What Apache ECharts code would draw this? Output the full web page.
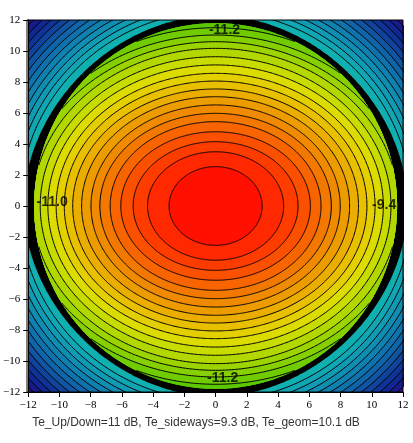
<!DOCTYPE html>
<html><head><meta charset="utf-8">
<script src="https://cdn.jsdelivr.net/npm/echarts@6/dist/echarts.min.js"></script>
<style>html,body{margin:0;padding:0;background:#fff}#c{width:413px;height:443px}</style>
</head><body><div id="c"></div>
<script>
// ---- data ----
const axisMin = -12, axisMax = 12, tickStep = 2;
// semi-axes (x, y) of the contour rings inside the rim, centre outward
const innerRingX = [2.98, 4.36, 5.28, 6.07, 6.75, 7.41, 7.98, 8.58, 9.15, 9.69, 10.21, 10.74, 11.23, 11.72, 12.2, 12.67, 13.14, 13.6];
const innerRingY = [2.54, 3.5, 4.15, 4.79, 5.44, 5.98, 6.52, 7.05, 7.55, 8.06, 8.56, 9.1, 9.63, 10.17, 10.6, 11.03, 11.5, 11.96];
const innerBandColors = ['#ff1000','#ff2800','#ff3c00','#fb5000','#f76400','#f37800','#f08a00','#ed9c00','#ebae00','#e8c000','#e4d000','#dcdc00','#c8dc00','#b2d800','#9cd400','#86d000','#70cc00','#5cc800','#4cc400'];
// rim (black band): inner semi-axes, outer radius, outer shape exponent
const rimInnerX = 11.62, rimInnerY = 11.8, rimOuter = 12.3, rimShape = 1.9;
// radii of the contour rings outside the rim
const outerRings = [12.55, 12.93, 13.31, 13.69, 14.07, 14.45, 14.83, 15.21, 15.59, 15.97, 16.35, 16.73];
const outerBandColors = ['#10b0b0','#10a6b4','#109ab4','#108eb2','#1080b0','#1072ac','#1064a8','#1054a2','#10449c','#103496','#102690','#181a8a','#2c1286'];
// edge taper labels
const edgeLabels = ['-11.2', '-11.2', '-11.0', '-9.4'];
const edgeLabelX = [0.57, 0.45, -10.47, 10.79];
const edgeLabelY = [11.35, -11.1, 0.26, 0.06];
const caption = 'Te_Up/Down=11 dB, Te_sideways=9.3 dB, Te_geom=10.1 dB';

// ---- drawing ----
const STEPS = 720;
function ellipseR(a, b, t) { const c = Math.cos(t) / a, s = Math.sin(t) / b; return 1 / Math.sqrt(c * c + s * s); }
function superR(R, n, t) { return R / Math.pow(Math.pow(Math.abs(Math.cos(t)), n) + Math.pow(Math.abs(Math.sin(t)), n), 1 / n); }
function shapePoints(api, rFn) {
  const p = [];
  for (let i = 0; i < STEPS; i++) { const t = i / STEPS * 2 * Math.PI; const r = rFn(t); p.push(api.coord([r * Math.cos(t), r * Math.sin(t)])); }
  return p;
}
const outerOrder = outerRings.map((_, i) => i).concat([outerRings.length]).reverse();
const innerOrder = innerRingX.map((_, i) => i).concat([innerRingX.length]).reverse();
const rimIn = t => ellipseR(rimInnerX, rimInnerY, t);

function renderOuter(params, api) {
  const j = outerOrder[params.dataIndex];
  if (j === outerRings.length) {
    const cs = params.coordSys;
    return { type: 'rect', shape: { x: cs.x, y: cs.y, width: cs.width, height: cs.height }, style: { fill: outerBandColors[j] } };
  }
  const r = outerRings[j];
  return { type: 'polygon', shape: { points: shapePoints(api, () => r) }, style: { fill: outerBandColors[j], stroke: '#000', lineWidth: 1 } };
}
function renderRim(params, api) {
  return { type: 'polygon', shape: { points: shapePoints(api, t => superR(rimOuter, rimShape, t)) }, style: { fill: '#000' } };
}
function renderInner(params, api) {
  const k = innerOrder[params.dataIndex];
  if (k === innerRingX.length) {
    return { type: 'polygon', shape: { points: shapePoints(api, rimIn) }, style: { fill: innerBandColors[k] } };
  }
  const a = innerRingX[k], b = innerRingY[k];
  const fillPts = [], segs = []; let cur = null;
  for (let i = 0; i <= STEPS; i++) {
    const t = i / STEPS * 2 * Math.PI;
    const re = ellipseR(a, b, t);
    const rc = rimIn(t);
    const inside = re < rc;
    const r = inside ? re : rc;
    const p = api.coord([r * Math.cos(t), r * Math.sin(t)]);
    if (i < STEPS) fillPts.push(p);
    if (inside) { if (!cur) { cur = []; segs.push(cur); } cur.push(p); } else cur = null;
  }
  const children = [{ type: 'polygon', shape: { points: fillPts }, style: { fill: innerBandColors[k] } }];
  segs.forEach(s => children.push({ type: 'polyline', shape: { points: s }, style: { fill: null, stroke: '#000', lineWidth: 1 } }));
  return { type: 'group', children };
}

const fmt = v => v < 0 ? '\u2212' + (-v) : String(v);
const axisCommon = {
  type: 'value', min: axisMin, max: axisMax, interval: tickStep, z: 20,
  axisLine: { show: true, onZero: false, lineStyle: { color: '#000', width: 1 } },
  axisTick: { show: true, length: 5, lineStyle: { color: '#000' } },
  splitLine: { show: false },
  axisLabel: { fontFamily: 'Liberation Serif', fontSize: 11, color: '#000', formatter: fmt }
};

const chart = echarts.init(document.getElementById('c'), null, { renderer: 'canvas' });
chart.setOption({
  animation: false,
  grid: { left: 27, top: 20, width: 376, height: 372, containLabel: false },
  xAxis: Object.assign({}, axisCommon, { axisLabel: Object.assign({}, axisCommon.axisLabel, { margin: 8 }) }),
  yAxis: Object.assign({}, axisCommon, { axisLabel: Object.assign({}, axisCommon.axisLabel, { margin: 8 }) }),
  series: [
    { type: 'custom', coordinateSystem: 'cartesian2d', clip: true, silent: true, z: 2, renderItem: renderOuter, data: outerOrder.map(j => [0, 0, j]), encode: { x: 0, y: 1 } },
    { type: 'custom', coordinateSystem: 'cartesian2d', clip: true, silent: true, z: 3, renderItem: renderRim, data: [[0, 0]], encode: { x: 0, y: 1 } },
    { type: 'custom', coordinateSystem: 'cartesian2d', clip: true, silent: true, z: 4, renderItem: renderInner, data: innerOrder.map(k => [0, 0, k]), encode: { x: 0, y: 1 } },
    { type: 'scatter', silent: true, z: 10, symbol: 'circle', symbolSize: 1, itemStyle: { color: 'rgba(0,0,0,0)' },
      labelLayout: { hideOverlap: false },
      data: edgeLabels.map((t, i) => ({ name: t, value: [edgeLabelX[i], edgeLabelY[i]] })),
      label: { show: true, position: 'inside', formatter: '{b}', fontFamily: 'Liberation Sans', fontWeight: 'bold', fontSize: 14, color: '#000' } }
  ],
  graphic: [
    { type: 'rect', z: 100, silent: true, shape: { x: 27, y: 20, width: 376, height: 372 }, style: { fill: null, stroke: '#000', lineWidth: 1 } },
    { type: 'text', z: 100, silent: true, x: 196, y: 423, style: { text: caption, fontFamily: 'Liberation Sans', fontSize: 12, fill: '#333', textAlign: 'center', textVerticalAlign: 'middle' } }
  ]
});
</script>
</body></html>
